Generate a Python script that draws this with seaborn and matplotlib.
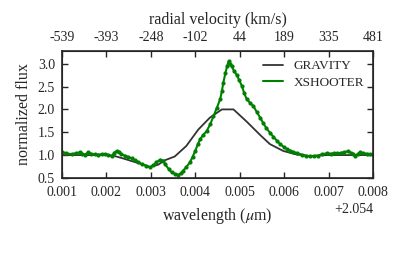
import numpy as np
import pandas as pd
import matplotlib
matplotlib.use("Agg")
import matplotlib.pyplot as plt
import matplotlib.ticker as mticker
from matplotlib.lines import Line2D
import seaborn as sns

# wavelengths are stored relative to the 2.054 micron offset shown on the axis
wl_offset = 2.054

grav_wl = [0.00100, 0.00150, 0.00200, 0.00215, 0.00240, 0.00270, 0.00298, 0.00317,
           0.00330, 0.00354, 0.00380, 0.00407, 0.00433, 0.00460, 0.00486, 0.00516,
           0.00546, 0.00568, 0.00598, 0.00629, 0.00659, 0.00696, 0.00750, 0.00800]
grav_flux = [1.00, 1.00, 1.00, 0.99, 0.92, 0.83, 0.74, 0.79,
             0.88, 0.97, 1.20, 1.56, 1.82, 2.00, 2.00, 1.73,
             1.44, 1.24, 1.09, 1.01, 0.98, 1.00, 1.00, 1.00]

xs_wl = [0.00100, 0.00110, 0.00122, 0.00131, 0.00140, 0.00146, 0.00152, 0.00159,
         0.00166, 0.00174, 0.00182, 0.00190, 0.00197, 0.00204, 0.00212, 0.00218,
         0.00223, 0.00229, 0.00234, 0.00241, 0.00249, 0.00257, 0.00264, 0.00272,
         0.00280, 0.00289, 0.00298, 0.00306, 0.00312, 0.00321, 0.00328, 0.00332,
         0.00340, 0.00347, 0.00355, 0.00362, 0.00368, 0.00373, 0.00380, 0.00388,
         0.00394, 0.00400, 0.00406, 0.00411, 0.00418, 0.00426, 0.00434, 0.00441,
         0.00448, 0.00456, 0.00460, 0.00463, 0.00468, 0.00472, 0.00475, 0.00479,
         0.00482, 0.00487, 0.00493, 0.00499, 0.00505, 0.00510, 0.00516, 0.00523,
         0.00531, 0.00538, 0.00546, 0.00553, 0.00560, 0.00568, 0.00576, 0.00584,
         0.00591, 0.00599, 0.00606, 0.00614, 0.00621, 0.00630, 0.00640, 0.00650,
         0.00659, 0.00668, 0.00677, 0.00686, 0.00696, 0.00705, 0.00712, 0.00719,
         0.00727, 0.00735, 0.00744, 0.00750, 0.00755, 0.00760, 0.00766, 0.00771,
         0.00778, 0.00786, 0.00794, 0.00800]
xs_flux = [1.07, 1.04, 1.02, 1.04, 1.06, 1.03, 1.01, 1.06,
           1.03, 1.02, 1.01, 1.02, 1.02, 1.01, 0.97, 1.05,
           1.09, 1.06, 1.02, 0.99, 0.96, 0.93, 0.89, 0.85,
           0.80, 0.77, 0.73, 0.78, 0.84, 0.90, 0.88, 0.80,
           0.70, 0.62, 0.59, 0.565, 0.60, 0.66, 0.74, 0.84,
           0.96, 1.09, 1.24, 1.35, 1.44, 1.53, 1.68, 1.85,
           2.02, 2.22, 2.40, 2.58, 2.80, 2.96, 3.05, 3.00,
           2.94, 2.85, 2.76, 2.64, 2.51, 2.36, 2.22, 2.15,
           2.07, 1.95, 1.82, 1.70, 1.59, 1.49, 1.40, 1.31,
           1.24, 1.18, 1.13, 1.10, 1.07, 1.04, 1.01, 0.98,
           0.97, 0.98, 0.99, 1.02, 1.04, 1.03, 1.04, 1.04,
           1.05, 1.06, 1.09, 1.05, 1.03, 0.98, 1.03, 1.06,
           1.04, 1.03, 1.02, 1.02]

wl_ticks = [0.001, 0.002, 0.003, 0.004, 0.005, 0.006, 0.007, 0.008]
vel_labels = ["-539", "-393", "-248", "-102", "44", "189", "335", "481"]

grav = pd.DataFrame({"wl": np.array(grav_wl) + wl_offset, "flux": grav_flux})
xs = pd.DataFrame({"wl": np.array(xs_wl) + wl_offset, "flux": xs_flux})

sns.set_style("ticks")
plt.rcParams["font.family"] = ["Liberation Serif", "DejaVu Serif"]
plt.rcParams["mathtext.fontset"] = "stix"
plt.rcParams["xtick.direction"] = "in"
plt.rcParams["ytick.direction"] = "in"

grav_color = "#333333"
xs_color = "#008000"

fig = plt.figure(figsize=(4.15, 2.56), dpi=100)
ax = fig.add_axes([0.149, 0.305, 0.750, 0.496])

sns.lineplot(data=grav, x="wl", y="flux", ax=ax, color=grav_color, lw=1.3,
             sort=False, legend=False)
sns.lineplot(data=xs, x="wl", y="flux", ax=ax, color=xs_color, lw=1.5,
             marker="o", markersize=3.0, markeredgewidth=0, sort=False,
             legend=False)

xlim = (wl_offset + wl_ticks[0], wl_offset + wl_ticks[-1])
ax.set_xlim(xlim)
ax.set_ylim(0.5, 3.28)
ax.set_xticks([wl_offset + t for t in wl_ticks])
ax.set_yticks([0.5, 1.0, 1.5, 2.0, 2.5, 3.0])
ax.yaxis.set_major_formatter(mticker.FormatStrFormatter("%.1f"))
ax.xaxis.set_major_formatter(mticker.ScalarFormatter(useOffset=wl_offset))
ax.tick_params(axis="both", labelsize=10, length=4, width=1, right=True)
ax.tick_params(axis="x", pad=6)
ax.tick_params(axis="y", pad=5)
ax.xaxis.get_offset_text().set_fontsize(10)
ax.set_xlabel(r"wavelength ($\mu$m)", fontsize=11.5, labelpad=5)
ax.set_ylabel("normalized flux", fontsize=11.5, labelpad=4)
for s in ax.spines.values():
    s.set_linewidth(1.2)

ax2 = ax.twiny()
ax2.set_xlim(xlim)
ax2.set_xticks([wl_offset + t for t in wl_ticks])
ax2.set_xticklabels(vel_labels)
ax2.tick_params(axis="x", labelsize=10, length=4, width=1, direction="in", pad=5)
ax2.set_xlabel("radial velocity (km/s)", fontsize=11.5, labelpad=5)

handles = [Line2D([], [], color=grav_color, lw=1.3),
           Line2D([], [], color=xs_color, lw=1.5)]
ax.legend(handles, ["GRAVITY", "XSHOOTER"], loc="upper right", frameon=False,
          fontsize=9.5, handlelength=1.5, borderaxespad=0.3, labelspacing=0.3)

fig.savefig("out.png", dpi=100)
